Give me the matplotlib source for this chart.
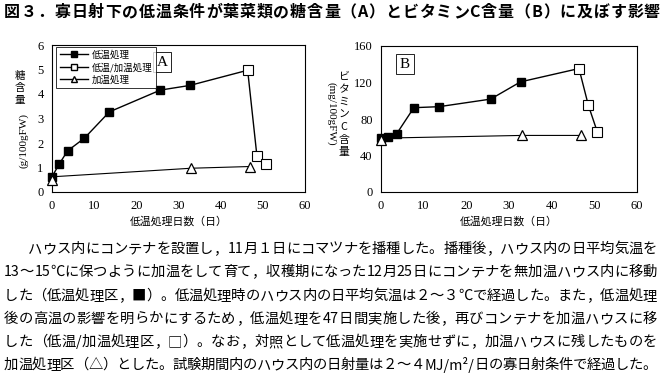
import re
import matplotlib
matplotlib.use("Agg")
import matplotlib.pyplot as plt
from matplotlib.lines import Line2D

# ---------------- data ----------------
days_low = [0, 1.7, 3.7, 7.7, 13.6, 25.7, 32.7]
days_lw = [46.4, 48.6, 50.7]
days_warm = [0, 33, 46.9]

sugar_low = [0.62, 1.14, 1.68, 2.2, 3.27, 4.16, 4.35]
sugar_lw = [4.97, 1.47, 1.14]
sugar_warm = [0.5, 0.97, 1.04]

vitc_low = [59, 60, 64, 92.4, 93.5, 101.8, 120.7]
vitc_lw = [135.3, 95, 65.8]
vitc_warm = [57, 62, 62]

legend_labels = ["低温処理", "低温/加温処理", "加温処理"]
xticks = [0, 10, 20, 30, 40, 50, 60]
yticks_a = [0, 1, 2, 3, 4, 5, 6]
yticks_b = [0, 40, 80, 120, 160]

title = "図３．寡日射下の低温条件が葉菜類の糖含量（A）とビタミンC含量（B）に及ぼす影響"
body = [
    "ハウス内にコンテナを設置し，11月１日にコマツナを播種した。播種後，ハウス内の日平均気温を",
    "13～15℃に保つように加温をして育て，収穫期になった12月25日にコンテナを無加温ハウス内に移動",
    "した（低温処理区，■）。低温処理時のハウス内の日平均気温は２～３℃で経過した。また，低温処理",
    "後の高温の影響を明らかにするため，低温処理を47日間実施した後，再びコンテナを加温ハウスに移",
    "した（低温/加温処理区，□）。なお，対照として低温処理を実施せずに，加温ハウスに残したものを",
    "加温処理区（△）とした。試験期間内のハウス内の日射量は２～４MJ/m²/日の寡日射条件で経過した。",
]

FAM = ["Noto Sans CJK JP", "DejaVu Sans"]
SERIF = ["Liberation Serif", "DejaVu Serif"]

W, H = 666, 378
fig = plt.figure(figsize=(W / 100, H / 100), dpi=100)
fig.patch.set_facecolor("white")


def px_axes(l, t, r, b):
    return fig.add_axes([l / W, 1 - b / H, (r - l) / W, (b - t) / H])


def style_axes(ax, yticks, ylim):
    ax.set_xlim(0, 60)
    ax.set_ylim(*ylim)
    ax.set_xticks(xticks)
    ax.set_yticks(yticks)
    ax.tick_params(length=0, pad=6, labelsize=9)
    for lab in ax.get_xticklabels() + ax.get_yticklabels():
        lab.set_family(SERIF)
    for s in ax.spines.values():
        s.set_linewidth(0.8)
    ax.set_xlabel("低温処理日数（日）", family=FAM, fontsize=7.8, labelpad=3)


def draw_series(ax, low, lw, warm):
    ax.plot(days_low + days_lw, low + lw, color="black", lw=1.0, zorder=2)
    ax.plot(days_warm, [low[0]] + warm[1:], color="black", lw=0.8, zorder=2)
    ax.plot(days_low, low, "s", color="black", ms=6, zorder=3, clip_on=False)
    ax.plot(days_lw, lw, "s", mfc="white", mec="black", mew=0.8, ms=6.5, zorder=3,
            clip_on=False)
    ax.plot(days_warm, warm, "^", mfc="white", mec="black", mew=0.9, ms=6.5, zorder=4,
            clip_on=False)


def vertical_text(s, x, y_top, step, size, family):
    for i, ch in enumerate(s):
        fig.text(x / W, 1 - (y_top + i * step) / H, ch, family=family, fontsize=size,
                 ha="center", va="center")


# ---- panel A ----
axA = px_axes(52, 45, 305, 192)
draw_series(axA, sugar_low, sugar_lw, sugar_warm)
style_axes(axA, yticks_a, (0, 6))
handles = [
    Line2D([], [], color="black", lw=1, marker="s", ms=5, mfc="black"),
    Line2D([], [], color="black", lw=1, marker="s", ms=5, mfc="white"),
    Line2D([], [], color="black", lw=1, marker="^", ms=5, mfc="white"),
]
leg = axA.legend(handles, legend_labels, loc="upper left", bbox_to_anchor=(0.01, 1.0),
                 prop={"family": FAM, "size": 6.8}, frameon=True, fancybox=False,
                 edgecolor="black", handlelength=3.0, borderpad=0.35, labelspacing=0.3,
                 handletextpad=0.4, borderaxespad=0.2)
leg.get_frame().set_linewidth(0.7)
axA.text(162 / W, 1 - 62 / H, "A", transform=fig.transFigure, ha="center", va="center",
         family=SERIF, fontsize=11,
         bbox=dict(boxstyle="square,pad=0.25", fc="white", ec="black", lw=0.6))
vertical_text("糖含量", 20, 76, 12, 7.6, FAM)
fig.text(24 / W, 1 - 140 / H, "(g/100gFW)", family=SERIF, fontsize=8,
         ha="center", va="center", rotation=90)

# ---- panel B ----
axB = px_axes(381, 46, 637, 192)
draw_series(axB, vitc_low, vitc_lw, vitc_warm)
style_axes(axB, yticks_b, (0, 160))
axB.text(405 / W, 1 - 64 / H, "B", transform=fig.transFigure, ha="center", va="center",
         family=SERIF, fontsize=11,
         bbox=dict(boxstyle="square,pad=0.25", fc="white", ec="black", lw=0.6))
fig.text(331 / W, 1 - 114 / H, "(mg/100gFW)", family=SERIF, fontsize=8,
         ha="center", va="center", rotation=-90)
vertical_text("ビタミンC含量", 344, 77, 12.5, 7.8, FAM)

# ---- justified text lines ----
renderer = fig.canvas.get_renderer()


def tokens(s):
    return re.findall(r"[A-Za-z0-9/²\.]+|.", s)


def justify(s, x0, x1, y, size, weight="normal"):
    toks = tokens(s)
    objs = []
    widths = []
    for tk in toks:
        t = fig.text(0, 1 - y / H, tk, family=FAM, fontsize=size, weight=weight,
                     ha="left", va="center")
        w = t.get_window_extent(renderer).width
        objs.append(t)
        widths.append(w)
    total = sum(widths)
    gap = (x1 - x0 - total) / max(len(toks) - 1, 1)
    x = x0
    for t, w in zip(objs, widths):
        t.set_x(x / W)
        x += w + gap


justify(title, 4, 660, 12, 11.5, weight="bold")
ys = [249, 272, 296, 319, 342, 365]
for i, (line, y) in enumerate(zip(body, ys)):
    justify(line, 28 if i == 0 else 4, 657, y, 10.3)

fig.savefig("out.png", dpi=100)
